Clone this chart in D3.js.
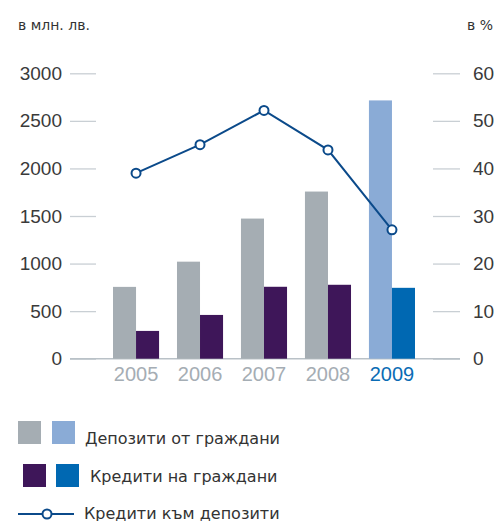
<!DOCTYPE html>
<html>
<head>
<meta charset="utf-8">
<script src="https://cdn.jsdelivr.net/npm/d3@7"></script>
<style>
  body { margin: 0; background: #fff; }
  svg { display: block; font-family: Roboto, "Liberation Sans", sans-serif; }
  .axis text { fill: #3a3a3a; font-size: 19px; }
  .axis line { stroke: #c9cfd4; stroke-width: 1.3; }
  .axis .domain { display: none; }
  .lbl { font-family: "DejaVu Sans", sans-serif; fill: #333; }
</style>
</head>
<body>
<script>
const years = ["2005", "2006", "2007", "2008", "2009"];
const deposits = [755, 1020, 1473, 1757, 2715];
const loans = [292, 460, 756, 777, 745];
const ratio = [39.0, 45.0, 52.2, 43.9, 27.1];
const leftTicks = [0, 500, 1000, 1500, 2000, 2500, 3000];
const rightTicks = [0, 10, 20, 30, 40, 50, 60];

const width = 495, height = 521;

const svg = d3.select("body").append("svg")
    .attr("width", width)
    .attr("height", height);

// scales
const x = d3.scaleBand().domain(years).range([113, 415]).paddingInner(0.28).paddingOuter(0);
const y = d3.scaleLinear().domain([0, 3000]).range([358.7, 73.3]);
const y2 = d3.scaleLinear().domain([0, 60]).range([358.7, 73.3]);
const half = x.bandwidth() / 2;

const isLast = d => d === "2009";

// axes
svg.append("g")
    .attr("class", "axis")
    .attr("transform", "translate(96,0)")
    .call(d3.axisLeft(y).tickValues(leftTicks).tickSize(26).tickPadding(8).tickFormat(d3.format("d")));

svg.append("g")
    .attr("class", "axis")
    .attr("transform", "translate(433,0)")
    .call(d3.axisRight(y2).tickValues(rightTicks).tickSize(27).tickPadding(13).tickFormat(d3.format("d")));

// baseline
svg.append("line")
    .attr("x1", 70).attr("x2", 460)
    .attr("y1", y(0)).attr("y2", y(0))
    .style("stroke", "#b9c1c7")
    .style("stroke-width", 1.5);

// bars
svg.selectAll(".dep")
    .data(years)
    .enter().append("rect")
    .attr("class", "dep")
    .attr("x", d => x(d))
    .attr("y", (d, i) => y(deposits[i]))
    .attr("width", half)
    .attr("height", (d, i) => y(0) - y(deposits[i]))
    .style("fill", d => isLast(d) ? "#8aabd6" : "#a5adb3");

svg.selectAll(".loan")
    .data(years)
    .enter().append("rect")
    .attr("class", "loan")
    .attr("x", d => x(d) + half)
    .attr("y", (d, i) => y(loans[i]))
    .attr("width", half)
    .attr("height", (d, i) => y(0) - y(loans[i]))
    .style("fill", d => isLast(d) ? "#0068b2" : "#3e1659");

// year labels
const xAxis = svg.append("g")
    .attr("class", "axis xaxis")
    .attr("transform", "translate(0," + y(0) + ")")
    .call(d3.axisBottom(x).tickSize(0).tickPadding(8));
xAxis.selectAll("text")
    .style("font-size", "20px")
    .style("fill", d => isLast(d) ? "#0a6cb5" : "#a5adb4");

// ratio line
const line = d3.line()
    .x((d, i) => x(years[i]) + half)
    .y(d => y2(d));

svg.append("path")
    .datum(ratio)
    .attr("d", line)
    .style("fill", "none")
    .style("stroke", "#0b4a8a")
    .style("stroke-width", 2);

svg.selectAll(".pt")
    .data(ratio)
    .enter().append("circle")
    .attr("class", "pt")
    .attr("cx", (d, i) => x(years[i]) + half)
    .attr("cy", d => y2(d))
    .attr("r", 4.5)
    .style("fill", "#fff")
    .style("stroke", "#0b4a8a")
    .style("stroke-width", 2);

// unit labels
svg.append("text").attr("class", "lbl").attr("x", 18).attr("y", 30)
    .style("font-size", "14px")
    .text("в млн. лв.");
svg.append("text").attr("class", "lbl").attr("x", 493).attr("y", 30)
    .attr("text-anchor", "end")
    .style("font-size", "14px")
    .text("в %");

// legend
const lg = svg.append("g").style("font-size", "16px");

lg.append("rect").attr("x", 18).attr("y", 421).attr("width", 23).attr("height", 23).style("fill", "#a5adb3");
lg.append("rect").attr("x", 52).attr("y", 421).attr("width", 23).attr("height", 23).style("fill", "#8aabd6");
lg.append("text").attr("class", "lbl").attr("x", 85).attr("y", 444).text("Депозити от граждани");

lg.append("rect").attr("x", 23).attr("y", 464).attr("width", 23).attr("height", 23).style("fill", "#3e1659");
lg.append("rect").attr("x", 56).attr("y", 464).attr("width", 23).attr("height", 23).style("fill", "#0068b2");
lg.append("text").attr("class", "lbl").attr("x", 90).attr("y", 482).text("Кредити на граждани");

lg.append("line").attr("x1", 18).attr("x2", 74).attr("y1", 514).attr("y2", 514)
    .style("stroke", "#0b4a8a").style("stroke-width", 2);
lg.append("circle").attr("cx", 47).attr("cy", 514).attr("r", 4.5)
    .style("fill", "#fff").style("stroke", "#0b4a8a").style("stroke-width", 2);
lg.append("text").attr("class", "lbl").attr("x", 84).attr("y", 519).text("Кредити към депозити");
</script>
</body>
</html>
